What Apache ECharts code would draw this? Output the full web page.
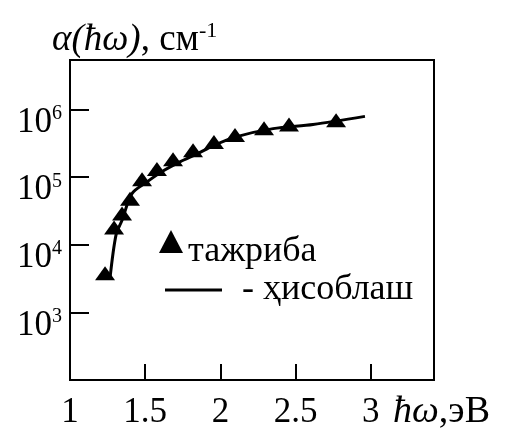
<!DOCTYPE html>
<html><head><meta charset="utf-8">
<script src="https://cdn.jsdelivr.net/npm/echarts@6/dist/echarts.min.js"></script>
<style>html,body{margin:0;padding:0;background:#fff}#c{width:506px;height:431px}</style>
</head><body><div id="c"></div>
<script>
// Experimental points (тажриба)
const expX = [1.233, 1.293, 1.346, 1.399, 1.479, 1.578, 1.685, 1.818, 1.957, 2.097, 2.29, 2.456, 2.769];
const expY = [3.8e3, 1.8e4, 2.9e4, 4.8e4, 9.3e4, 1.32e5, 1.84e5, 2.5e5, 3.3e5, 4.2e5, 5.25e5, 6.0e5, 6.9e5];
// Calculated curve (ҳисоблаш)
const calcX = [1.266, 1.306, 1.346, 1.412, 1.512, 1.618, 1.731, 1.844, 1.951, 2.097, 2.35, 2.616, 2.961];
const calcY = [3.2e3, 1.4e4, 2.3e4, 5.7e4, 8.5e4, 1.23e5, 1.68e5, 2.2e5, 2.9e5, 3.9e5, 5.2e5, 6.0e5, 7.9e5];
// Tick labels
const xTickLabels = [1, 1.5, 2, 2.5, 3];
const yTickExps = [3, 4, 5, 6];
const seriesNames = ['тажриба', 'ҳисоблаш'];

const F = 'Liberation Serif';
const chart = echarts.init(document.getElementById('c'), null, {renderer: 'canvas'});
chart.setOption({
  backgroundColor: '#fff',
  animation: false,
  title: {
    text: '{i|α(ħω)}{n|, см}{s|-1}',
    left: 52, top: 20, padding: 0,
    textStyle: {
      fontWeight: 'normal',
      rich: {
        i: {fontFamily: F, fontStyle: 'italic', fontWeight: 'normal', fontSize: 37, color: '#000'},
        n: {fontFamily: F, fontWeight: 'normal', fontSize: 37, color: '#000'},
        s: {fontFamily: F, fontWeight: 'normal', fontSize: 22, color: '#000', padding: [0, 0, 18, 0]}
      }
    }
  },
  grid: {left: 70, top: 60, right: 72, bottom: 48, show: true, borderColor: '#000', borderWidth: 2, backgroundColor: 'transparent'},
  legend: [
    {
      data: [{name: seriesNames[0], icon: 'triangle', itemStyle: {color: '#000', opacity: 1}}],
      left: 159, top: 230, padding: 0, itemWidth: 24, itemHeight: 23, itemGap: 0,
      formatter: n => '{t|' + n + '}',
      textStyle: {rich: {t: {fontFamily: F, fontSize: 36, color: '#000', padding: [20, 0, 0, 0]}}}
    },
    {
      data: [{name: seriesNames[1], icon: 'rect', itemStyle: {color: '#000', opacity: 1}}],
      left: 165, top: 272, padding: 0, itemWidth: 57, itemHeight: 3,
      formatter: n => '- ' + n,
      textStyle: {fontFamily: F, fontSize: 36, color: '#000', padding: [0, 0, 0, 15]}
    }
  ],
  xAxis: {
    type: 'value', min: 1, max: 3.42, interval: 0.5,
    axisLine: {show: true, lineStyle: {color: '#000', width: 2}},
    axisTick: {show: true, inside: true, length: 16, lineStyle: {color: '#000', width: 2}},
    splitLine: {show: false},
    axisLabel: {
      fontFamily: F, fontSize: 35, color: '#000', margin: 15, showMaxLabel: false,
      formatter: v => xTickLabels.indexOf(Math.round(v * 100) / 100) >= 0 ? String(v) : ''
    },
    name: '{i|ħω}{n|,эВ}', nameLocation: 'end', nameGap: -41,
    nameTextStyle: {
      align: 'left', verticalAlign: 'middle', padding: [64, 0, 0, 0],
      rich: {
        i: {fontFamily: F, fontStyle: 'italic', fontSize: 38, color: '#000'},
        n: {fontFamily: F, fontSize: 38, color: '#000'}
      }
    }
  },
  yAxis: {
    type: 'log', logBase: 10, min: 100, max: 5.38e6,
    axisLine: {show: true, lineStyle: {color: '#000', width: 2}},
    axisTick: {show: true, inside: true, length: 19, lineStyle: {color: '#000', width: 2}},
    splitLine: {show: false},
    axisLabel: {
      margin: 8,
      formatter: v => {
        const e = Math.round(Math.log10(v));
        if (Math.abs(Math.log10(v) - e) > 1e-6 || yTickExps.indexOf(e) < 0) return '';
        return '{b|10}{s|' + e + '}';
      },
      rich: {
        b: {fontFamily: F, fontSize: 35, color: '#000', padding: [26, 0, 0, 0]},
        s: {fontFamily: F, fontSize: 20, color: '#000', padding: [25, 0, 16, 0]}
      }
    }
  },
  series: [
    {
      name: seriesNames[0], type: 'scatter', symbol: 'triangle', symbolSize: [20, 14],
      itemStyle: {color: '#000', opacity: 1}, z: 3,
      data: expX.map((x, i) => [x, expY[i]])
    },
    {
      name: seriesNames[1], type: 'line', smooth: 0.3, showSymbol: false, symbol: 'none',
      lineStyle: {color: '#000', width: 3}, itemStyle: {color: '#000'}, z: 2,
      data: calcX.map((x, i) => [x, calcY[i]])
    }
  ]
});
</script></body></html>
